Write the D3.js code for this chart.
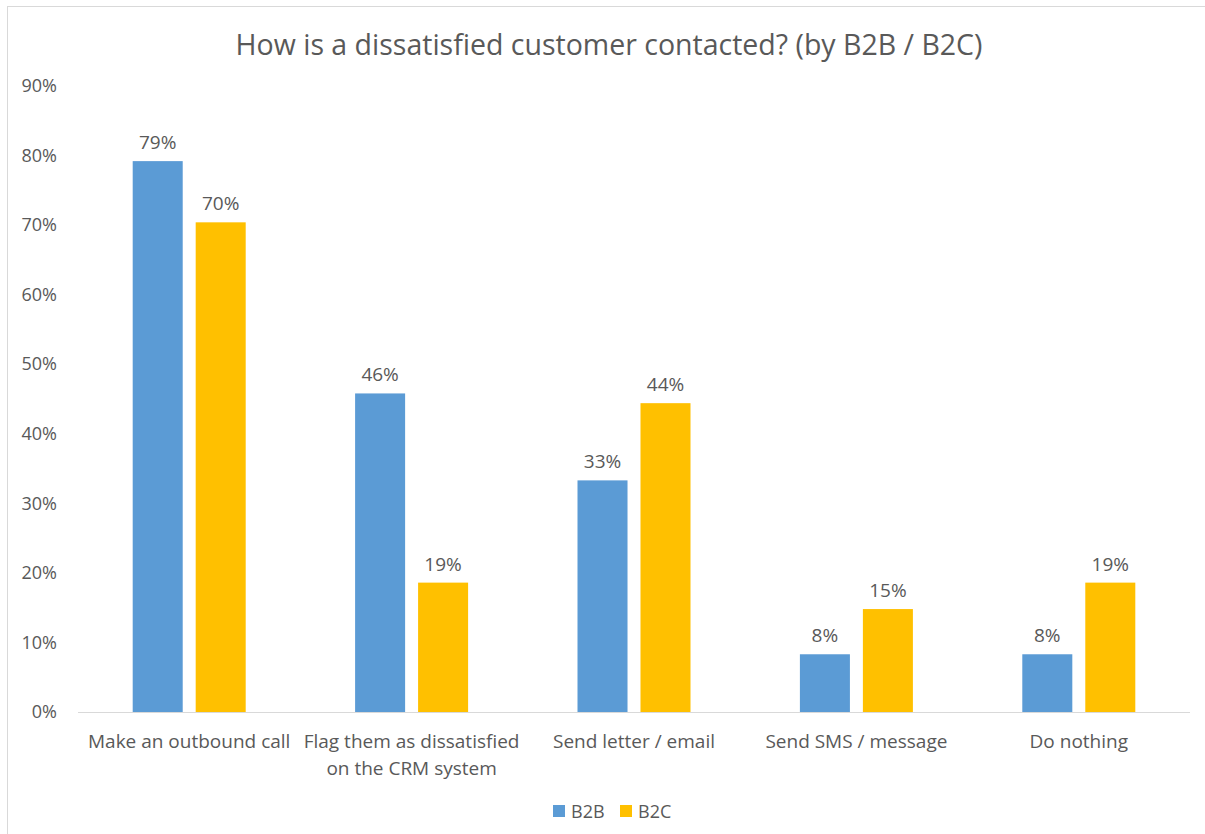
<!DOCTYPE html>
<html>
<head>
<meta charset="utf-8">
<script src="https://cdn.jsdelivr.net/npm/d3@7"></script>
<style>
  html, body { margin: 0; padding: 0; background: #fff; }
  svg { display: block; font-family: "Open Sans", "Noto Sans", sans-serif; }
</style>
</head>
<body>
<svg id="chart" width="1205" height="834"></svg>
<script>
// Contact methods and the share of B2B / B2C respondents using each
const categories = [
  ["Make an outbound call"],
  ["Flag them as dissatisfied", "on the CRM system"],
  ["Send letter / email"],
  ["Send SMS / message"],
  ["Do nothing"]
];
const seriesNames = ["B2B", "B2C"];
const b2bValues = [0.792, 0.458, 0.333, 0.083, 0.083];
const b2cValues = [0.704, 0.186, 0.444, 0.148, 0.186];
const yTicks = [0, 0.1, 0.2, 0.3, 0.4, 0.5, 0.6, 0.7, 0.8, 0.9];
const colors = ["#5b9bd5", "#ffc000"];
const title = "How is a dissatisfied customer contacted? (by B2B / B2C)";

const svg = d3.select("#chart");
const textColor = "#595959";

// chart frame
svg.append("rect")
  .attr("x", 7.5).attr("y", 6.5)
  .attr("width", 1205).attr("height", 840)
  .attr("fill", "none").attr("stroke", "#d9d9d9").attr("stroke-width", 1);

const plot = { left: 78, right: 1190, top: 86, bottom: 712 };
const groupWidth = 113;

const x0 = d3.scaleBand()
  .domain(d3.range(categories.length))
  .range([plot.left, plot.right]);
const x1 = d3.scaleBand()
  .domain(seriesNames)
  .range([0, groupWidth])
  .paddingInner(0.206);
const y = d3.scaleLinear().domain([0, 0.9]).range([plot.bottom, plot.top]);

// title
svg.append("text")
  .attr("x", 609).attr("y", 55)
  .attr("text-anchor", "middle")
  .attr("font-size", 28.5)
  .attr("fill", textColor)
  .text(title);

// y axis labels (no line, no ticks)
const yAxis = d3.axisLeft(y).tickValues(yTicks).tickFormat(d3.format(".0%")).tickSize(0).tickPadding(0);
const yg = svg.append("g").attr("transform", `translate(57,0)`).call(yAxis);
yg.select(".domain").remove();
yg.selectAll("text").attr("font-size", 18).attr("fill", textColor)
  .attr("font-family", "'Open Sans', sans-serif");

// baseline
svg.append("line")
  .attr("x1", plot.left).attr("x2", plot.right)
  .attr("y1", y(0) + 0.5).attr("y2", y(0) + 0.5)
  .attr("stroke", "#d9d9d9").attr("stroke-width", 1);

const rows = categories.map((c, i) => ({ i, vals: [b2bValues[i], b2cValues[i]] }));

const groups = svg.selectAll("g.cat").data(rows).join("g")
  .attr("class", "cat")
  .attr("transform", d => `translate(${x0(d.i) + (x0.bandwidth() - groupWidth) / 2},0)`);

groups.selectAll("rect")
  .data(d => d.vals.map((v, k) => ({ v, s: seriesNames[k], k })))
  .join("rect")
  .attr("x", d => x1(d.s))
  .attr("y", d => y(d.v))
  .attr("width", x1.bandwidth())
  .attr("height", d => y(0) - y(d.v))
  .attr("fill", d => colors[d.k]);

groups.selectAll("text.val")
  .data(d => d.vals.map((v, k) => ({ v, s: seriesNames[k] })))
  .join("text")
  .attr("class", "val")
  .attr("x", d => x1(d.s) + x1.bandwidth() / 2)
  .attr("y", d => y(d.v) - 12)
  .attr("text-anchor", "middle")
  .attr("font-size", 19)
  .attr("fill", textColor)
  .text(d => d3.format(".0%")(d.v));

// category labels
const xl = svg.selectAll("text.cat").data(categories).join("text")
  .attr("class", "cat")
  .attr("x", (d, i) => x0(i) + x0.bandwidth() / 2)
  .attr("y", 748)
  .attr("text-anchor", "middle")
  .attr("font-size", 19)
  .attr("fill", textColor);
xl.selectAll("tspan").data(d => d).join("tspan")
  .attr("x", function () { return this.parentNode.getAttribute("x"); })
  .attr("dy", (d, j) => j === 0 ? 0 : 27)
  .text(d => d);

// legend
const legendItems = [
  { name: seriesNames[0], color: colors[0], x: 553 },
  { name: seriesNames[1], color: colors[1], x: 620 }
];
const lg = svg.selectAll("g.legend").data(legendItems).join("g")
  .attr("class", "legend")
  .attr("transform", d => `translate(${d.x},805)`);
lg.append("rect").attr("width", 12).attr("height", 12).attr("fill", d => d.color);
lg.append("text").attr("x", 18).attr("y", 12.5)
  .attr("font-size", 18).attr("fill", textColor).text(d => d.name);
</script>
</body>
</html>
